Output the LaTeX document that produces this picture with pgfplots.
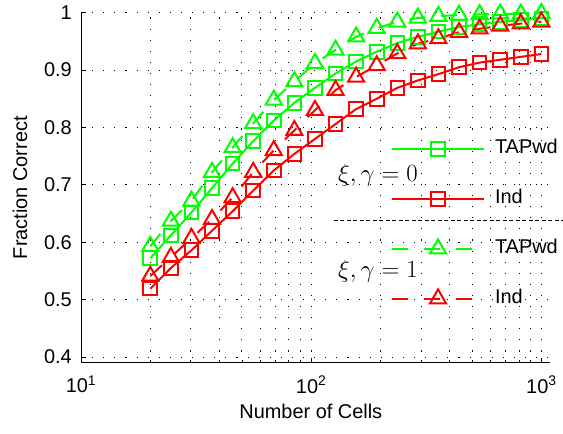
\documentclass[border=0pt]{standalone}
\usepackage{pgfplots}
\pgfplotsset{compat=1.18}
\usepackage{fontspec}
\setmainfont{Liberation Sans}
\newcommand{\fs}{\fontsize{20}{24}\selectfont}
\begin{document}
\begin{tikzpicture}
\path[use as bounding box] (0,0) rectangle (563bp,434bp);
\begin{axis}[
  at={(81bp,71.3bp)}, anchor=south west,
  scale only axis, width=469bp, height=350bp,
  xmode=log, xmin=10, xmax=1090, ymin=0.39, ymax=1,
  axis x line*=bottom, axis y line*=left,
  axis line style={black, line width=1bp, -},
  tick align=inside,
  major tick length=5bp, minor tick length=3bp,
  tick style={black, line width=0.8bp},
  xtick={10,100,1000},
  xticklabels={10\textsuperscript{1},10\textsuperscript{2},10\textsuperscript{3}},
  ytick={0.4,0.5,0.6,0.7,0.8,0.9,1},
  yticklabels={0.4,0.5,0.6,0.7,0.8,0.9,1},
  xticklabel style={font=\fs, anchor=north, inner sep=0pt, yshift=-13bp},
  yticklabel style={font=\fs, anchor=east, inner sep=0pt, xshift=-9bp},
  grid=both,
  major grid style={black, line width=0.9bp, dash pattern=on 1.1bp off 10bp},
  minor grid style={black, line width=0.9bp, dash pattern=on 1.1bp off 10bp},
  xlabel={Number of Cells}, ylabel={Fraction Correct},
  every axis x label/.style={at={(axis description cs:0.49,-0.138)}, anchor=center, font=\fs},
  every axis y label/.style={at={(axis description cs:-0.130,0.5)}, anchor=center, rotate=90, font=\fs},
  clip=false,
  every axis legend/.style={at={(axis description cs:0.661,0.64)}, anchor=north west,
    cells={anchor=west}, inner sep=0pt, outer sep=0pt, row sep=30bp, column sep=10bp, font=\fs,
    nodes={inner sep=0pt, text height=15bp, text depth=5bp}},
  legend image code/.code={\draw[mark repeat=2, mark phase=2, #1] plot coordinates {(0bp,0bp) (46bp,0bp) (92bp,0bp)};},
]
\addplot[color=green, line width=2bp, mark=square, mark size=6.8bp, mark options={solid}] table {
x y
20 0.572
24.57 0.612
30.19 0.652
37.09 0.694
45.57 0.737
55.99 0.776
68.79 0.812
84.52 0.843
103.85 0.869
127.59 0.894
156.76 0.915
192.60 0.932
236.63 0.947
290.73 0.958
357.19 0.967
438.85 0.975
539.18 0.980
662.44 0.984
813.89 0.987
1000 0.990
};
\addlegendentry{TAPwd}
\addplot[color=red, line width=2bp, mark=square, mark size=6.8bp, mark options={solid}] table {
x y
20 0.519
24.57 0.555
30.19 0.586
37.09 0.620
45.57 0.654
55.99 0.690
68.79 0.725
84.52 0.754
103.85 0.780
127.59 0.806
156.76 0.832
192.60 0.850
236.63 0.869
290.73 0.882
357.19 0.893
438.85 0.905
539.18 0.913
662.44 0.918
813.89 0.923
1000 0.928
};
\addlegendentry{Ind}
\addplot[color=green, line width=2bp, dash pattern=on 16bp off 16bp, mark=triangle, mark size=9.3bp, mark options={solid}] table {
x y
20 0.593
24.57 0.637
30.19 0.672
37.09 0.722
45.57 0.765
55.99 0.807
68.79 0.848
84.52 0.880
103.85 0.912
127.59 0.935
156.76 0.958
192.60 0.973
236.63 0.984
290.73 0.991
357.19 0.994
438.85 0.996
539.18 0.997
662.44 0.998
813.89 0.998
1000 0.999
};
\addlegendentry{TAPwd}
\addplot[color=red, line width=2bp, dash pattern=on 16bp off 16bp, mark=triangle, mark size=9.3bp, mark options={solid}] table {
x y
20 0.541
24.57 0.574
30.19 0.607
37.09 0.640
45.57 0.678
55.99 0.722
68.79 0.760
84.52 0.795
103.85 0.830
127.59 0.865
156.76 0.888
192.60 0.908
236.63 0.929
290.73 0.946
357.19 0.955
438.85 0.966
539.18 0.972
662.44 0.977
813.89 0.981
1000 0.984
};
\addlegendentry{Ind}
\node[font=\fontsize{27}{30}\selectfont] at (axis description cs:0.633,0.536) {$\xi,\gamma=0$};
\node[font=\fontsize{27}{30}\selectfont] at (axis description cs:0.633,0.26) {$\xi,\gamma=1$};
\draw[black, line width=1.2bp, dash pattern=on 4bp off 2.5bp] (axis description cs:0.539,0.406) -- (axis description cs:1.03,0.406);
\end{axis}
\end{tikzpicture}
\end{document}
